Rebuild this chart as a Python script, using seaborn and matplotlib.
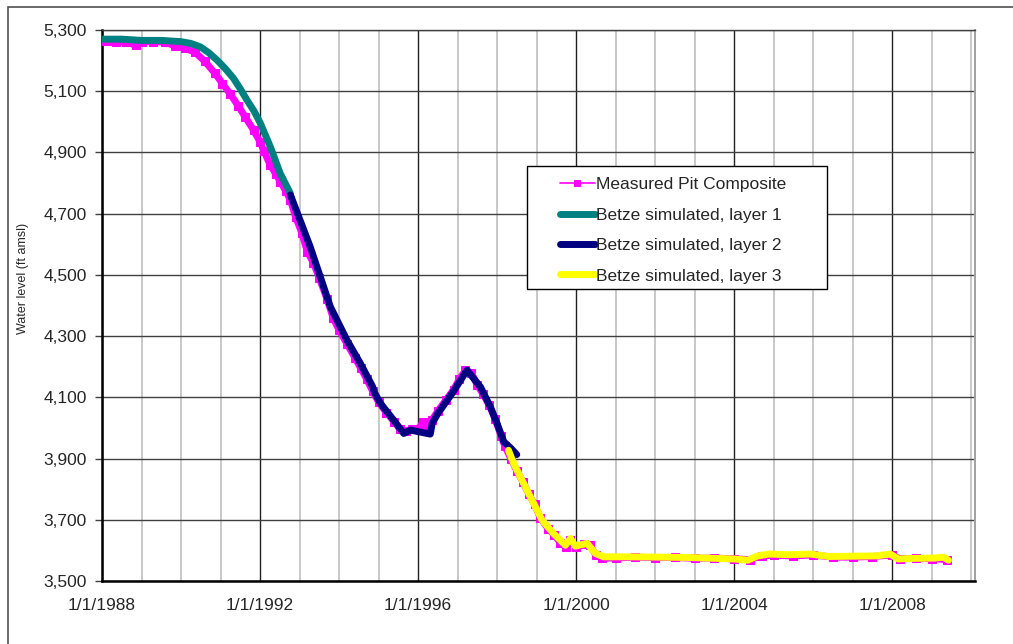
import matplotlib
matplotlib.use("Agg")
import matplotlib.pyplot as plt
import matplotlib.patches as patches
import seaborn as sns

# Measured pit composite (decimal year, ft amsl)
measured_year = [1988.0, 1988.2, 1988.35, 1988.6, 1988.85, 1989.0, 1989.3, 1989.6, 1989.85, 1990.1,
                 1990.35, 1990.6, 1990.85, 1991.05, 1991.25, 1991.45, 1991.63, 1991.84, 1992.0, 1992.1,
                 1992.26, 1992.4, 1992.51, 1992.65, 1992.77, 1992.9, 1993.06, 1993.2, 1993.35, 1993.5,
                 1993.7, 1993.85, 1994.0, 1994.2, 1994.4, 1994.55, 1994.7, 1994.85, 1995.0, 1995.2,
                 1995.4, 1995.55, 1995.7, 1995.85, 1996.0, 1996.13, 1996.2, 1996.35, 1996.5, 1996.7,
                 1996.9, 1997.05, 1997.2, 1997.35, 1997.5, 1997.65, 1997.8, 1997.95, 1998.1, 1998.2,
                 1998.35, 1998.5, 1998.65, 1998.8, 1998.95, 1999.1, 1999.3, 1999.45, 1999.6, 1999.75,
                 1999.85, 2000.0, 2000.2, 2000.35, 2000.5, 2000.65, 2001.0, 2001.5, 2002.0, 2002.5,
                 2003.0, 2003.5, 2004.0, 2004.4, 2004.7, 2005.0, 2005.5, 2006.0, 2006.5, 2007.0,
                 2007.5, 2008.0, 2008.2, 2008.6, 2009.0, 2009.4]
measured_level = [5265, 5263, 5260, 5262, 5250, 5262, 5262, 5260, 5248, 5240,
                  5228, 5198, 5160, 5125, 5090, 5052, 5015, 4972, 4935, 4905,
                  4858, 4830, 4805, 4775, 4744, 4690, 4636, 4575, 4540, 4490,
                  4420, 4360, 4320, 4275, 4230, 4195, 4160, 4120, 4085, 4050,
                  4020, 3995, 3990, 3998, 3995, 4020, 3990, 4025, 4055, 4090,
                  4125, 4160, 4188, 4180, 4140, 4110, 4075, 4030, 3975, 3940,
                  3900, 3860, 3825, 3785, 3750, 3705, 3670, 3650, 3625, 3610,
                  3635, 3612, 3620, 3618, 3585, 3575, 3575, 3578, 3576, 3577,
                  3574, 3575, 3572, 3570, 3582, 3584, 3582, 3585, 3578, 3578,
                  3580, 3585, 3572, 3574, 3573, 3570]

# Betze simulated, layer 1
layer1_year = [1988.0, 1988.5, 1989.0, 1989.5, 1990.0, 1990.25, 1990.49, 1990.7, 1990.91, 1991.12,
               1991.33, 1991.5, 1991.67, 1991.85, 1992.01, 1992.26, 1992.51, 1992.77]
layer1_level = [5270, 5270, 5266, 5266, 5262, 5256, 5245, 5226, 5202, 5174,
                5142, 5108, 5071, 5035, 4995, 4919, 4832, 4766]

# Betze simulated, layer 2
layer2_year = [1992.77, 1993.27, 1993.78, 1994.2, 1994.54, 1994.85, 1994.9, 1995.05, 1995.38, 1995.64,
               1995.81, 1996.31, 1996.36, 1996.5, 1996.9, 1997.24, 1997.58, 1997.83, 1998.0, 1998.17,
               1998.34, 1998.5]
layer2_level = [4761, 4592, 4396, 4287, 4211, 4135, 4115, 4080, 4026, 3982,
                3993, 3980, 4015, 4047, 4120, 4189, 4134, 4069, 4015, 3955,
                3935, 3913]

# Betze simulated, layer 3
layer3_year = [1998.29, 1998.42, 1998.59, 1998.8, 1998.93, 1999.14, 1999.43, 1999.73, 1999.86, 1999.98,
               2000.28, 2000.49, 2000.7, 2001.37, 2002.8, 2004.0, 2004.35, 2004.6, 2004.88, 2005.4,
               2005.93, 2006.4, 2007.0, 2007.6, 2007.95, 2008.16, 2008.6, 2009.1, 2009.3, 2009.43]
layer3_level = [3927, 3884, 3840, 3786, 3753, 3699, 3655, 3617, 3639, 3614,
                3623, 3590, 3579, 3579, 3577, 3572, 3568, 3582, 3588, 3586,
                3588, 3580, 3581, 3582, 3588, 3572, 3574, 3575, 3578, 3568]

year_ticks = [1988, 1992, 1996, 2000, 2004, 2008]
level_ticks = [3500, 3700, 3900, 4100, 4300, 4500, 4700, 4900, 5100, 5300]

sns.set_style("white")
plt.rcParams['font.family'] = ['Liberation Sans', 'DejaVu Sans']

fig = plt.figure(figsize=(10.13, 6.44), dpi=100)
ax = fig.add_axes([102 / 1013, 1 - 581 / 644, 873 / 1013, 551 / 644])

# outer chart frame
fig.patches.append(patches.Rectangle((8 / 1013, -0.1), 1.2, 1.1 - 7 / 644, transform=fig.transFigure,
                                     fill=False, edgecolor="#505050", lw=1.2))

sns.lineplot(x=measured_year, y=measured_level, ax=ax, sort=False, color="#FF00FF", lw=5,
             marker="s", markersize=6, markeredgecolor="#FF00FF", markerfacecolor="#FF00FF",
             label="Measured Pit Composite", zorder=3)
sns.lineplot(x=layer1_year, y=layer1_level, ax=ax, sort=False, color="#008080", lw=5,
             label="Betze simulated, layer 1", zorder=4)
sns.lineplot(x=layer2_year, y=layer2_level, ax=ax, sort=False, color="#000080", lw=5,
             label="Betze simulated, layer 2", zorder=4)
sns.lineplot(x=layer3_year, y=layer3_level, ax=ax, sort=False, color="#FFFF00", lw=5,
             label="Betze simulated, layer 3", zorder=5)

ax.set_xlim(1988, 2010.1)
ax.set_ylim(3500, 5300)
ax.set_xticks(year_ticks)
ax.set_xticklabels([f"1/1/{y}" for y in year_ticks])
ax.set_xticks(range(1988, 2011), minor=True)
ax.set_yticks(level_ticks)
ax.set_yticklabels([f"{v:,}" for v in level_ticks])

ax.grid(True, which="minor", axis="x", color="#c8c8c8", lw=1.4)
ax.grid(True, which="major", axis="x", color="#202020", lw=1.0)
ax.grid(True, which="major", axis="y", color="#404040", lw=1.0)
ax.set_axisbelow(True)

ax.tick_params(axis="x", which="both", length=0, pad=12, labelsize=12.5)
ax.tick_params(axis="y", which="major", length=5, width=1, color="#404040", pad=6, labelsize=12.5, left=True)

for side in ["left", "bottom"]:
    ax.spines[side].set_color("black")
    ax.spines[side].set_linewidth(1.8)
ax.spines["right"].set_color("#a0a0a0")
ax.spines["right"].set_linewidth(1.4)
ax.spines["top"].set_color("#404040")
ax.spines["top"].set_linewidth(1.0)

ax.set_xlabel("")
ax.set_ylabel("Water level (ft amsl)", fontsize=9)
ax.yaxis.set_label_coords(-0.084, 0.55)

# legend frame drawn separately so the entries can sit centred inside it
ax.add_patch(patches.Rectangle((0.487, 0.530), 0.3435, 0.2232, transform=ax.transAxes,
                               facecolor="white", edgecolor="black", lw=1.0, zorder=6))
leg = ax.legend(loc="upper left", bbox_to_anchor=(0.5245, 0.733), frameon=False,
                borderaxespad=0, borderpad=0, fontsize=12.5, handlelength=2.0,
                handletextpad=0.1, labelspacing=0.88)
leg.set_zorder(7)
leg.legend_handles[0].set_markersize(4)
leg.legend_handles[0].set_linewidth(1.2)

fig.savefig("out.png", dpi=100)
